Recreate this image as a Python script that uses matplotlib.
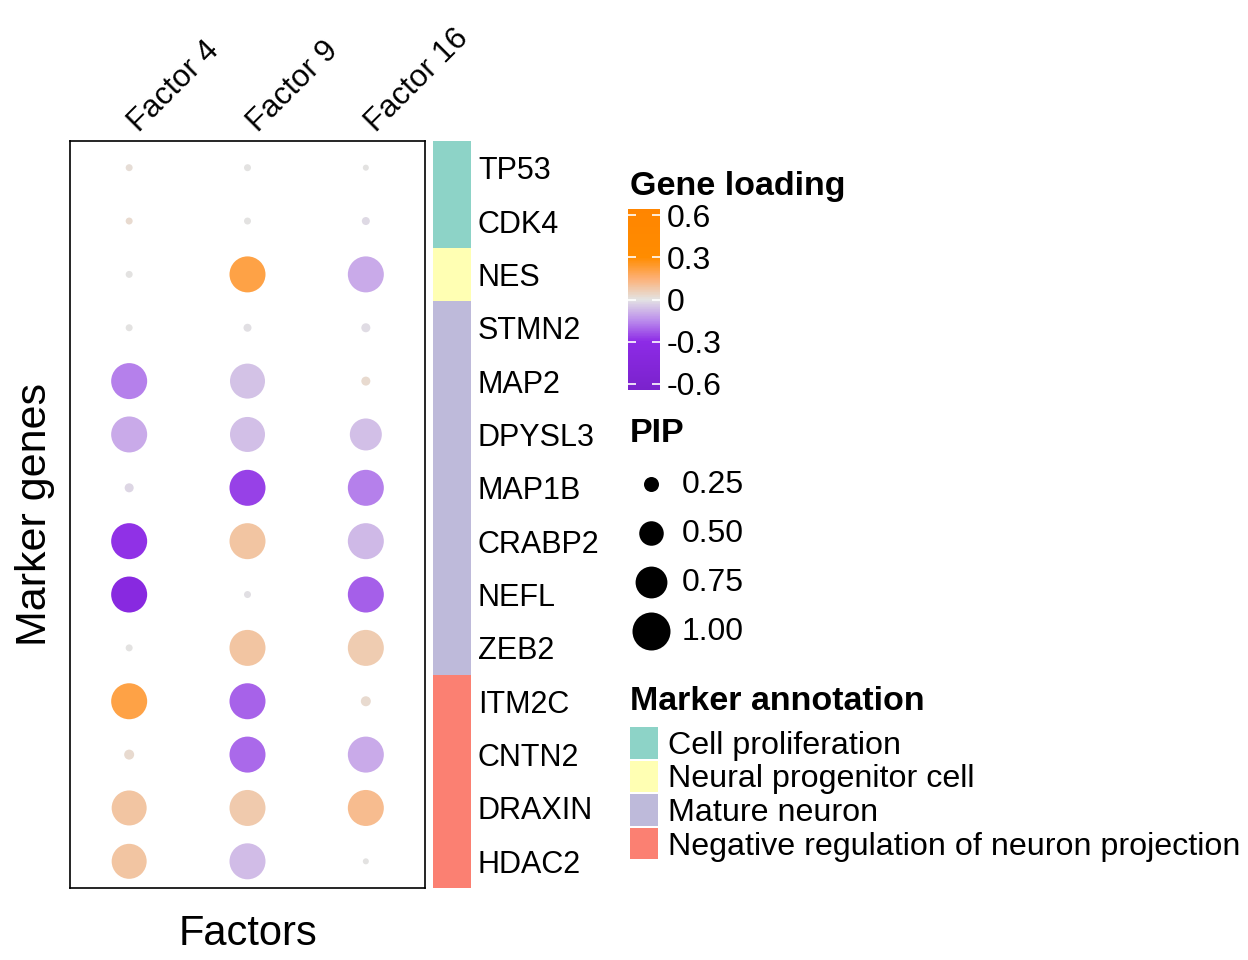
import numpy as np
import matplotlib.pyplot as plt
import matplotlib.transforms as mtransforms
from matplotlib.colors import LinearSegmentedColormap, Normalize
from matplotlib.cm import ScalarMappable

plt.rcParams['font.family'] = ['Liberation Sans', 'DejaVu Sans']

# Data
factors = ['Factor 4', 'Factor 9', 'Factor 16']
genes = ['TP53', 'CDK4', 'NES', 'STMN2', 'MAP2', 'DPYSL3', 'MAP1B',
         'CRABP2', 'NEFL', 'ZEB2', 'ITM2C', 'CNTN2', 'DRAXIN', 'HDAC2']
gene_group = ['Cell proliferation', 'Cell proliferation', 'Neural progenitor cell',
              'Mature neuron', 'Mature neuron', 'Mature neuron', 'Mature neuron',
              'Mature neuron', 'Mature neuron', 'Mature neuron',
              'Negative regulation of neuron projection', 'Negative regulation of neuron projection',
              'Negative regulation of neuron projection', 'Negative regulation of neuron projection']
groups = ['Cell proliferation', 'Neural progenitor cell', 'Mature neuron',
          'Negative regulation of neuron projection']
group_colors = ['#8DD3C7', '#FFFFB3', '#BEBADA', '#FB8072']

# loadings (rows = genes, cols = factors)
loading = np.array([
    [0.02, 0.00, 0.00],
    [0.03, 0.00, -0.02],
    [0.00, 0.21, -0.10],
    [0.00, -0.01, -0.015],
    [-0.17, -0.06, 0.03],
    [-0.10, -0.065, -0.065],
    [-0.025, -0.265, -0.17],
    [-0.29, 0.09, -0.075],
    [-0.38, -0.01, -0.22],
    [0.00, 0.09, 0.07],
    [0.21, -0.215, 0.03],
    [0.03, -0.205, -0.10],
    [0.09, 0.075, 0.115],
    [0.09, -0.07, 0.00],
])
pip = np.array([
    [0.106, 0.106, 0.093],
    [0.106, 0.106, 0.121],
    [0.106, 0.915, 0.915],
    [0.106, 0.121, 0.137],
    [0.915, 0.874, 0.137],
    [0.915, 0.874, 0.756],
    [0.137, 0.915, 0.915],
    [0.915, 0.915, 0.915],
    [0.915, 0.106, 0.915],
    [0.106, 0.915, 0.915],
    [0.915, 0.915, 0.153],
    [0.153, 0.915, 0.915],
    [0.874, 0.915, 0.915],
    [0.874, 0.915, 0.093],
])
cbar_ticks = [-0.6, -0.3, 0, 0.3, 0.6]
cbar_labels = ['-0.6', '-0.3', '0', '0.3', '0.6']
pip_breaks = [0.25, 0.50, 0.75, 1.00]

W, H = 1248, 960
fig = plt.figure(figsize=(W / 100, H / 100), dpi=100)

def box(x0, y0, x1, y1):
    return [x0 / W, 1 - y1 / H, (x1 - x0) / W, (y1 - y0) / H]

def dot_size(p):
    d_px = -8 + 46 * np.sqrt(np.asarray(p))
    return (d_px * 0.72) ** 2

lim = 0.646
cmap = LinearSegmentedColormap.from_list('load', [
    (0.0, '#7A22CC'),
    ((-0.3 + lim) / (2 * lim), '#8D2BE6'),
    ((-0.15 + lim) / (2 * lim), '#BB8DEC'),
    (0.5, '#E3E3E3'),
    ((0.15 + lim) / (2 * lim), '#FDB075'),
    ((0.3 + lim) / (2 * lim), '#FF8C00'),
    (1.0, '#FF8500'),
])
norm = Normalize(-lim, lim)

# main dot panel
ax = fig.add_axes(box(70, 141, 425, 888))
xx, yy = np.meshgrid(np.arange(len(factors)), np.arange(len(genes)))
ax.scatter(xx.ravel(), yy.ravel(), s=dot_size(pip.ravel()),
           c=loading.ravel(), cmap=cmap, norm=norm, linewidths=0)
ax.set_xlim(-0.5, len(factors) - 0.5)
ax.set_ylim(len(genes) - 0.5, -0.5)
ax.set_xticks(range(len(factors)))
ax.set_xticklabels(factors, rotation=45, ha='left', va='bottom',
                   rotation_mode='anchor', fontsize=22.5)
ax.xaxis.tick_top()
ax.tick_params(axis='x', length=0, pad=2)
shift = mtransforms.ScaledTranslation(0.15, 0, fig.dpi_scale_trans)
for lab in ax.get_xticklabels():
    lab.set_transform(lab.get_transform() + shift)
ax.set_yticks([])
for sp in ax.spines.values():
    sp.set_linewidth(1.2)
ax.set_xlabel('Factors', fontsize=30, labelpad=19)
ax.xaxis.set_label_position('bottom')
ax.set_ylabel('Marker genes', fontsize=31, labelpad=11)

# annotation strip
ax2 = fig.add_axes(box(433, 141, 471, 888))
for i, g in enumerate(gene_group):
    ax2.barh(i, 1, height=1, color=group_colors[groups.index(g)], linewidth=0)
ax2.set_xlim(0, 1)
ax2.set_ylim(len(genes) - 0.5, -0.5)
ax2.set_xticks([])
ax2.yaxis.tick_right()
ax2.set_yticks(range(len(genes)))
ax2.set_yticklabels(genes, fontsize=22)
ax2.tick_params(axis='y', length=0, pad=5)
for sp in ax2.spines.values():
    sp.set_visible(False)

# colour bar
fig.text(630 / W, 1 - 186 / H, 'Gene loading', fontsize=24.5, fontweight='bold', va='center')
cax = fig.add_axes(box(628, 209, 660, 390))
cb = fig.colorbar(ScalarMappable(norm=norm, cmap=cmap), cax=cax, ticks=cbar_ticks)
cb.outline.set_visible(False)
cb.set_ticklabels(cbar_labels)
cax.yaxis.set_ticks_position('both')
cax.tick_params(axis='y', direction='in', color='white', length=6, width=1.2,
                labelsize=23, pad=5, labelleft=False, labelright=True)

# PIP legend and marker annotation legend, laid out in pixel coordinates
lax = fig.add_axes([0, 0, 1, 1], zorder=-1)
lax.set_xlim(0, W)
lax.set_ylim(H, 0)
lax.axis('off')
lax.text(630, 434, 'PIP', fontsize=24.5, fontweight='bold', va='center')
for k, b in enumerate(pip_breaks):
    y = 484 + k * 49
    lax.scatter([651], [y], s=dot_size(b), color='black', linewidths=0)
    lax.text(682, y + 1, f'{b:.2f}', fontsize=23, va='center')

lax.text(630, 701, 'Marker annotation', fontsize=24.5, fontweight='bold', va='center')
for k, (g, c) in enumerate(zip(groups, group_colors)):
    y0 = 727 + k * 33.5
    lax.add_patch(plt.Rectangle((630, y0), 28, 31.5, color=c, linewidth=0))
    lax.text(668, y0 + 19, g, fontsize=23.2, va='center')

fig.savefig('out.png', dpi=100)
